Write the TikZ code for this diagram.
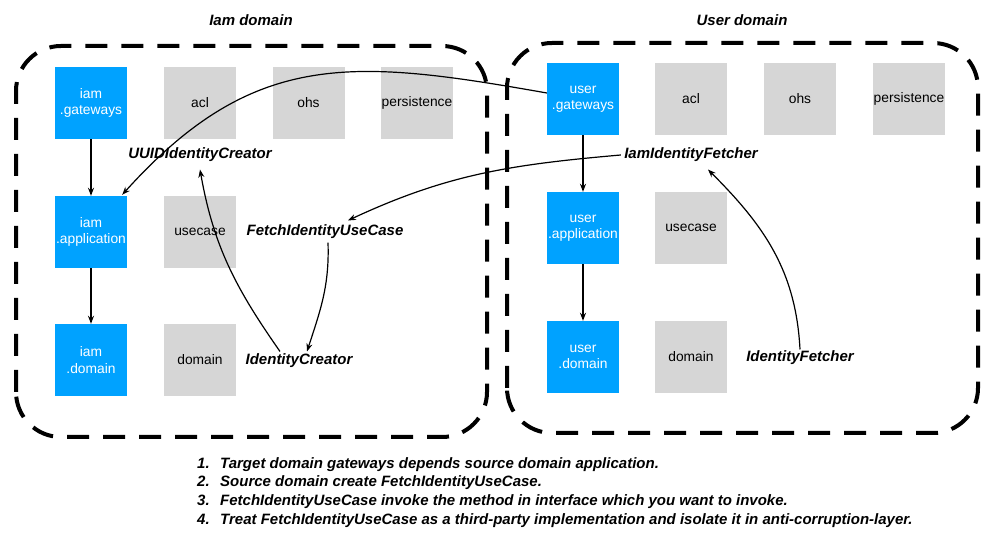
\documentclass[tikz,border=0pt]{standalone}
\usepackage{fontspec}
\setmainfont{Liberation Sans}
\usetikzlibrary{arrows.meta}
\definecolor{pkgblue}{RGB}{0,162,255}
\definecolor{pkggray}{RGB}{214,214,214}

\begin{document}
\begin{tikzpicture}[x=1pt, y=1pt,
  pkgbox/.style={minimum width=72pt, minimum height=72pt, inner sep=0pt, align=center,
    font=\fontsize{13.8}{16.5}\selectfont},
  mainpkg/.style={pkgbox, fill=pkgblue, text=white},
  sidepkg/.style={pkgbox, fill=pkggray},
  impl/.style={font=\fontsize{15}{18}\selectfont\bfseries\itshape},
  ctxbox/.style={draw, line width=4pt, dash pattern=on 22pt off 14pt, rounded corners=45pt},
  dep/.style={-{Stealth[length=8pt, width=6pt]}, line width=1.2pt}]
  \useasboundingbox (0,0) rectangle (1003,545);

  % Bounded contexts
  \draw[ctxbox] (16,108) rectangle (487,499);
  \draw[ctxbox] (507,112) rectangle (978,502);
  \node[impl] (iamtitle) at (251,525) {Iam domain};
  \node[impl] (usertitle) at (742,525) {User domain};

  % Iam domain packages
  \node[mainpkg] (iamgw) at (91,442) {iam\\.gateways};
  \node[sidepkg] (iamacl) at (200,442) {acl};
  \node[sidepkg] (iamohs) at (308.5,442) {ohs};
  \node[sidepkg] (iampers) at (417,442) {persistence};
  \node[mainpkg] (iamapp) at (91,313) {iam\\.application};
  \node[sidepkg] (iamuc) at (200,313) {usecase};
  \node[mainpkg] (iamdom) at (91,185) {iam\\.domain};
  \node[sidepkg] (iamdm) at (200,185) {domain};

  % User domain packages
  \node[mainpkg] (usergw) at (583,446) {user\\.gateways};
  \node[sidepkg] (useracl) at (691,446) {acl};
  \node[sidepkg] (userohs) at (800,446) {ohs};
  \node[sidepkg] (userpers) at (909,446) {persistence};
  \node[mainpkg] (userapp) at (583,317) {user\\.application};
  \node[sidepkg] (useruc) at (691,317) {usecase};
  \node[mainpkg] (userdom) at (583,188) {user\\.domain};
  \node[sidepkg] (userdm) at (691,188) {domain};

  % Implementations
  \node[impl] (uuidcreator) at (200,390) {UUIDIdentityCreator};
  \node[impl] (fetchuc) at (325,313) {FetchIdentityUseCase};
  \node[impl] (creator) at (299,184) {IdentityCreator};
  \node[impl] (iamfetcher) at (691,390) {IamIdentityFetcher};
  \node[impl] (fetcher) at (800,187) {IdentityFetcher};

  % Layer dependencies
  \draw[dep] (iamgw) -- (iamapp);
  \draw[dep] (iamapp) -- (iamdom);
  \draw[dep] (usergw) -- (userapp);
  \draw[dep] (userapp) -- (userdom);

  % Cross domain calls
  \draw[dep] ([yshift=6pt]usergw.west) to[out=170, in=48, looseness=1.15] ([xshift=-5pt, yshift=1pt]iamapp.north east);
  \draw[dep] (iamfetcher.west) to[out=185, in=25] ([xshift=23pt, yshift=1pt]fetchuc.north);
  \draw[dep] ([xshift=3pt]fetchuc.south) to[out=-88, in=72] ([xshift=8pt, yshift=-1pt]creator.north);
  \draw[dep] ([xshift=-19pt, yshift=-1pt]creator.north) to[out=125, in=-80] ([yshift=-4pt]uuidcreator.south);
  \draw[dep] ([yshift=-2pt]fetcher.north) to[out=93, in=-45] ([xshift=17pt, yshift=-4pt]iamfetcher.south);

  % Notes
  \node[anchor=north west, align=left, inner sep=0pt,
    font=\fontsize{15}{18.7}\selectfont\bfseries\itshape] (notes) at (197,88) {%
    \makebox[23pt][l]{1.}Target domain gateways depends source domain application.\\
    \makebox[23pt][l]{2.}Source domain create FetchIdentityUseCase.\\
    \makebox[23pt][l]{3.}FetchIdentityUseCase invoke the method in interface which you want to invoke.\\
    \makebox[23pt][l]{4.}Treat FetchIdentityUseCase as a third-party implementation and isolate it in anti-corruption-layer.};
\end{tikzpicture}
\end{document}
